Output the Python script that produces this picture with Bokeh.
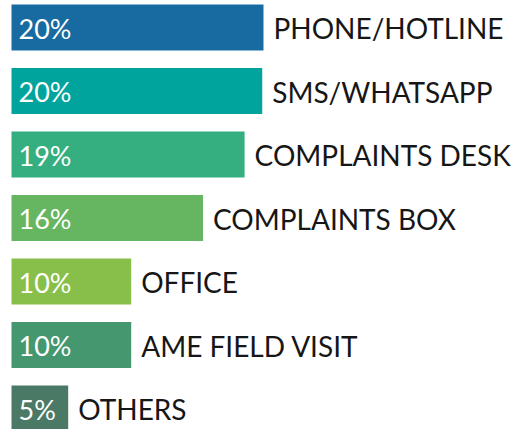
from bokeh.plotting import figure
from bokeh.models import ColumnDataSource, Range1d
from bokeh.core.properties import value
from bokeh.embed import file_html
from bokeh.resources import INLINE

# Data
categories = ["PHONE/HOTLINE", "SMS/WHATSAPP", "COMPLAINTS DESK", "COMPLAINTS BOX",
              "OFFICE", "AME FIELD VISIT", "OTHERS"]
values = [20.0, 19.9, 18.5, 15.2, 9.5, 9.5, 4.5]
pct_labels = ["20%", "20%", "19%", "16%", "10%", "10%", "5%"]
colors = ["#176ba0", "#00a49d", "#35ae80", "#66b561", "#88bf4a", "#44976f", "#4a7a66"]

pos = list(range(len(categories)))
src = ColumnDataSource(dict(y=pos, v=values, cat=categories, lab=pct_labels, col=colors,
                            zero=[0] * len(values)))

p = figure(width=517, height=429, output_backend="svg", toolbar_location=None,
           x_range=Range1d(-0.873, 40.16), y_range=Range1d(6.331, -0.425),
           min_border=0, outline_line_color=None)
p.axis.visible = False
p.grid.visible = False
p.background_fill_color = "white"

p.hbar(y="y", left=0, right="v", height=0.724, fill_color="col", line_color=None, source=src)

p.text(x="zero", y="y", text="lab", x_offset=7, y_offset=1, text_color="white",
       text_font=value("Lato"), text_font_size="27px", text_baseline="middle",
       text_align="left", source=src)

p.text(x="v", y="y", text="cat", x_offset=10, y_offset=1, text_color="#161616",
       text_font=value("Lato"), text_font_size="28px", text_baseline="middle",
       text_align="left", source=src)

open("out.html", "w").write(file_html(p, INLINE))
